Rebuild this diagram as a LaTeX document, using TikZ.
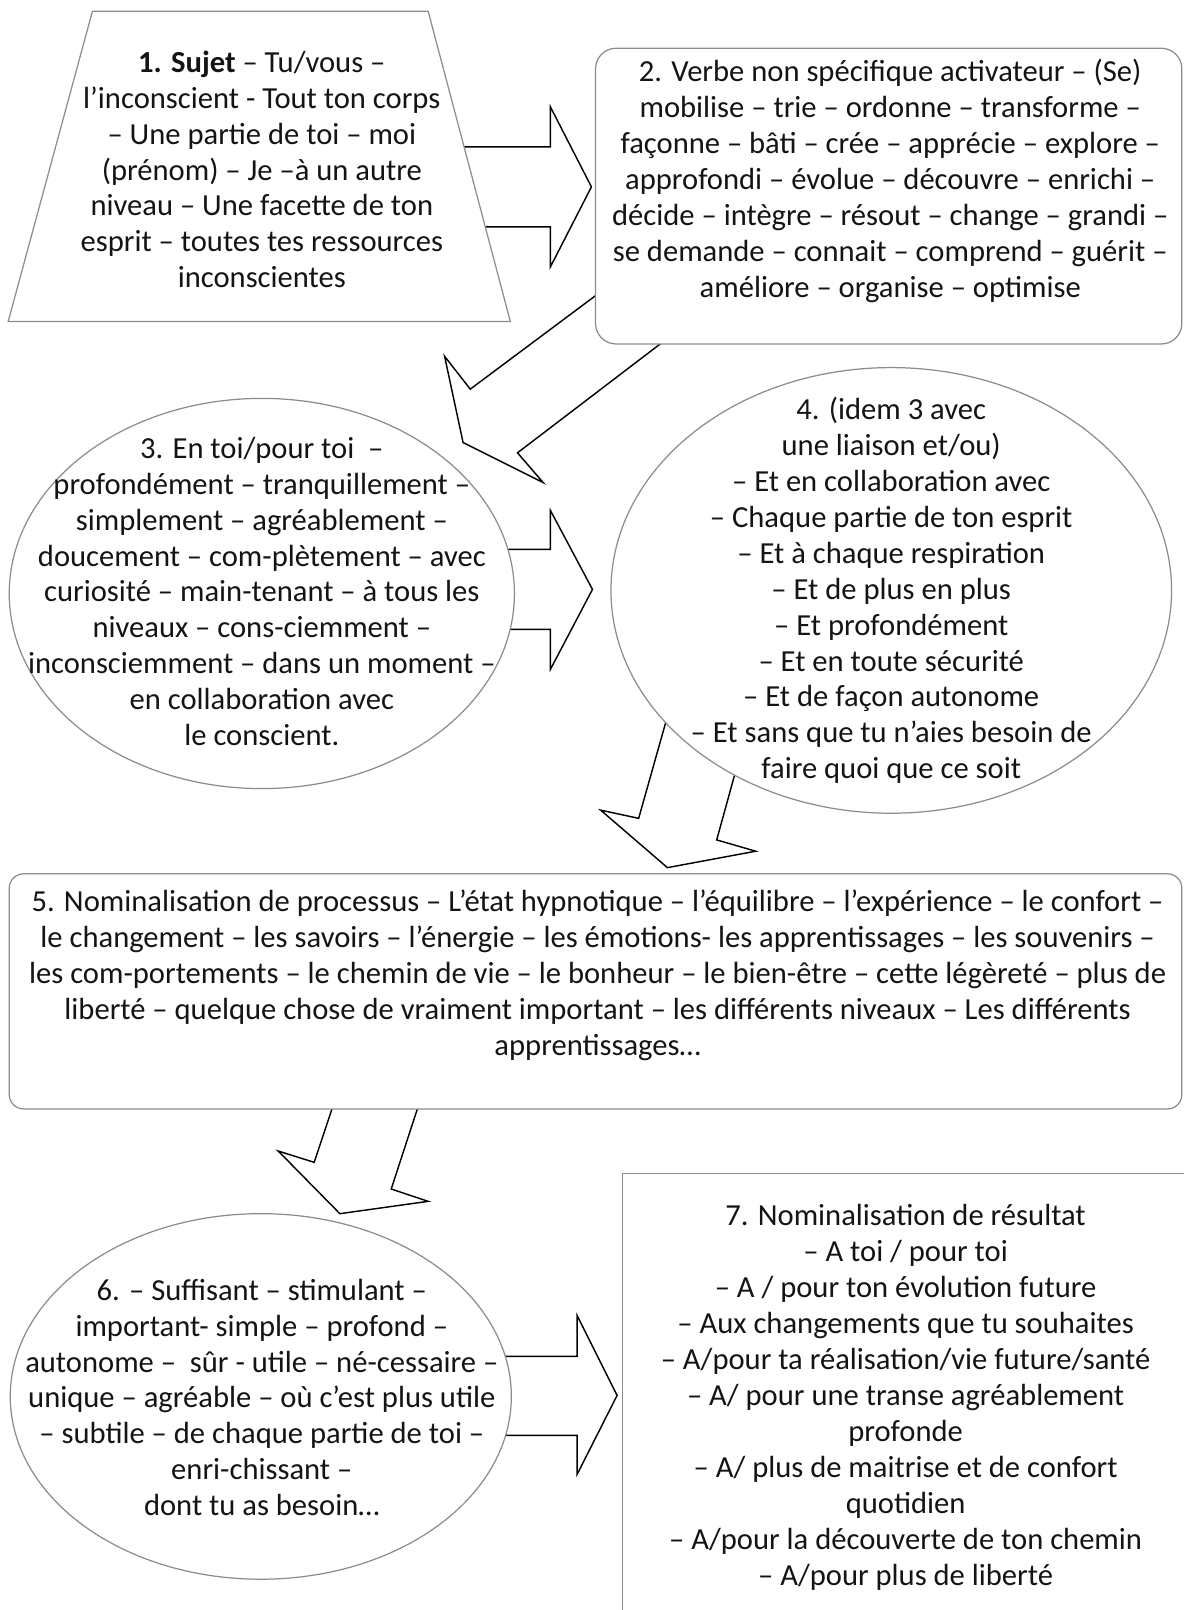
\documentclass[tikz,border=0pt]{standalone}
\usepackage{fontspec}
\setmainfont{Carlito}

\begin{document}
\begin{tikzpicture}[x=0.5pt,y=-0.5pt,
  forme/.style={draw=gray!90,line width=0.6pt,fill=white},
  fleche/.style={draw=black,line width=0.7pt,fill=white,line join=miter},
  texte/.style={align=center,inner sep=0pt,text=black!92,font=\fontsize{14.9}{17.5}\selectfont}]
\useasboundingbox (0,0) rectangle (1153,1568);
\clip (0,0) rectangle (1153,1568);
% fleches
\draw[fleche] (440,143)--(536,143)--(536,104)--(576,182)--(536,260)--(536,221)--(440,221)--cycle;
\draw[fleche] (600,273)--(458,379)--(433,347)--(451,431)--(529,470)--(504,441)--(660,322)--cycle;
\draw[fleche] (470,535)--(536,535)--(536,497)--(577,574)--(536,652)--(536,613)--(470,613)--cycle;
\draw[fleche] (655,680)--(622,797)--(585,789)--(650,845)--(736,829)--(698,818)--(725,720)--cycle;
\draw[fleche] (330,1060)--(306,1132)--(271,1121)--(331,1182)--(417,1170)--(381,1158)--(413,1060)--cycle;
\draw[fleche] (440,1321)--(562,1321)--(562,1281)--(601,1359)--(562,1436)--(562,1398)--(440,1398)--cycle;
% formes
\draw[forme] (90,11)--(417,11)--(497,313)--(8,313)--cycle;
\draw[forme,rounded corners=10pt] (580,47) rectangle (1151,335);
\draw[forme] (255,578) ellipse [x radius=246,y radius=190];
\draw[forme] (868,575) ellipse [x radius=273,y radius=217];
\draw[forme,rounded corners=7pt] (9,851) rectangle (1151,1080);
\draw[forme] (254,1360) ellipse [x radius=244,y radius=178];
\draw[forme] (606,1143) rectangle (1170,1600);
% textes
\node[texte] (sujet) at (255,165) {\textbf{1. Sujet} – Tu/vous –\\l’inconscient - Tout ton corps\\– Une partie de toi – moi\\(prénom) – Je –à un autre\\niveau – Une facette de ton\\esprit – toutes tes ressources\\inconscientes};
\node[texte] (verbe) at (867,176) {2. Verbe non spécifique activateur – (Se)\\mobilise – trie – ordonne – transforme –\\façonne – bâti – crée – apprécie – explore –\\approfondi – évolue – découvre – enrichi –\\décide – intègre – résout – change – grandi –\\se demande – connait – comprend – guérit –\\améliore – organise – optimise};
\node[texte] (adverbe) at (255,576) {3. En toi/pour toi~~–\\profondément – tranquillement –\\simplement – agréablement –\\doucement – com-plètement – avec\\curiosité – main-tenant – à tous les\\niveaux – cons-ciemment –\\inconsciemment – dans un moment –\\en collaboration avec\\le conscient.};
\node[texte] (liaison) at (868,575) {4. (idem 3 avec\\une liaison et/ou)\\– Et en collaboration avec\\– Chaque partie de ton esprit\\– Et à chaque respiration\\– Et de plus en plus\\– Et profondément\\– Et en toute sécurité\\– Et de façon autonome\\– Et sans que tu n’aies besoin de\\faire quoi que ce soit};
\node[texte] (nominproc) at (582,950) {5. Nominalisation de processus – L’état hypnotique – l’équilibre – l’expérience – le confort –\\le changement – les savoirs – l’énergie – les émotions- les apprentissages – les souvenirs –\\les com-portements – le chemin de vie – le bonheur – le bien-être – cette légèreté – plus de\\liberté – quelque chose de vraiment important – les différents niveaux – Les différents\\apprentissages…};
\node[texte] (adjectif) at (255,1361) {6. – Suffisant – stimulant –\\important- simple – profond –\\autonome –~~sûr - utile – né-cessaire –\\unique – agréable – où c’est plus utile\\– subtile – de chaque partie de toi –\\enri-chissant –\\dont tu as besoin…};
\node[texte] (nominres) at (882,1361) {7. Nominalisation de résultat\\– A toi / pour toi\\– A / pour ton évolution future\\– Aux changements que tu souhaites\\– A/pour ta réalisation/vie future/santé\\– A/ pour une transe agréablement\\profonde\\– A/ plus de maitrise et de confort\\quotidien\\– A/pour la découverte de ton chemin\\– A/pour plus de liberté};
\end{tikzpicture}
\end{document}
